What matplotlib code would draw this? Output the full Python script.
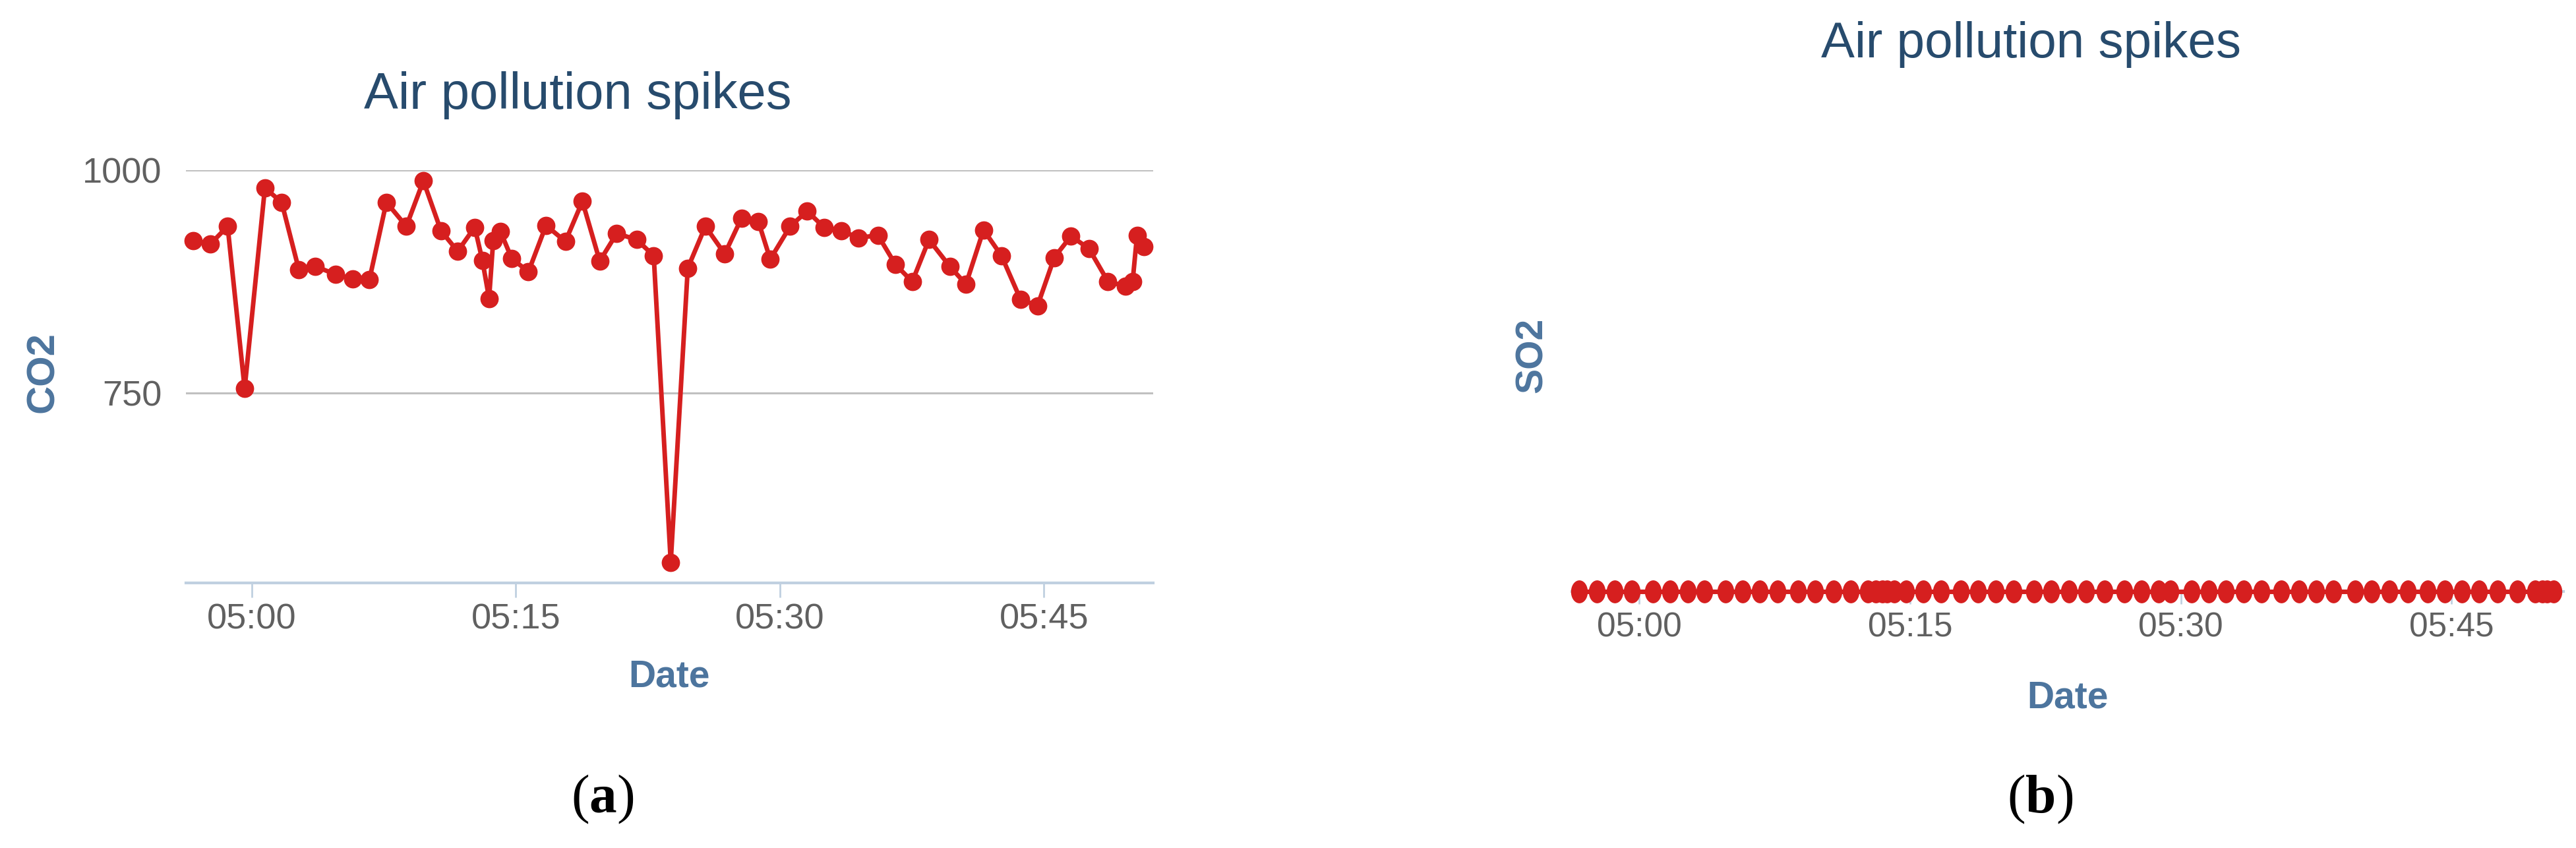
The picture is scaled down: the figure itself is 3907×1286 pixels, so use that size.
import numpy as np
import pandas as pd
import matplotlib
matplotlib.use('Agg')
import matplotlib.pyplot as plt
from matplotlib.path import Path

plt.rcParams['mathtext.fontset'] = 'custom'
plt.rcParams['mathtext.rm'] = 'Liberation Serif'
plt.rcParams['mathtext.bf'] = 'Liberation Serif:bold'

# readings (same timestamps for both sensors)
day = '2018-01-01'
times = ['04:56:41', '04:57:39', '04:58:38', '04:59:36', '05:00:45', '05:01:42',
         '05:02:41', '05:03:37', '05:04:47', '05:05:44', '05:06:41', '05:07:39',
         '05:08:47', '05:09:45', '05:10:45', '05:11:42', '05:12:40', '05:13:06',
         '05:13:29', '05:13:43', '05:14:08', '05:14:46', '05:15:43', '05:16:43',
         '05:17:49', '05:18:47', '05:19:46', '05:20:44', '05:21:52', '05:22:50',
         '05:23:48', '05:24:46', '05:25:46', '05:26:52', '05:27:49', '05:28:47',
         '05:29:27', '05:30:35', '05:31:33', '05:32:30', '05:33:30', '05:34:28',
         '05:35:34', '05:36:34', '05:37:31', '05:38:28', '05:39:39', '05:40:34',
         '05:41:34', '05:42:35', '05:43:40', '05:44:38', '05:45:35', '05:46:32',
         '05:47:33', '05:48:38', '05:49:37', '05:50:02', '05:50:17', '05:50:40']
co2 = [921, 917, 937, 755, 980, 964, 888, 892, 883, 878,
       877, 964, 937, 988, 932, 909, 936, 899, 856, 921,
       931, 901, 886, 938, 920, 965, 898, 929, 922, 904,
       560, 890, 937, 906, 946, 942, 900, 937, 954, 936,
       932, 924, 927, 894, 875, 922, 892, 872, 933, 904,
       855, 848, 902, 926, 912, 875, 870, 875, 927, 914]
so2 = [0, 0, 0, 0, 0, 0, 0, 0, 0, 0,
       0, 0, 0, 0, 0, 0, 0, 0, 0, 0,
       0, 0, 0, 0, 0, 0, 0, 0, 0, 0,
       0, 0, 0, 0, 0, 0, 0, 0, 0, 0,
       0, 0, 0, 0, 0, 0, 0, 0, 0, 0,
       0, 0, 0, 0, 0, 0, 0, 0, 0, 0]
x_ticks = ['05:00', '05:15', '05:30', '05:45']
co2_ticks = [750, 1000]
x_range = ['04:56:15', '05:51:12']

t = pd.to_datetime([day + ' ' + s for s in times])
tick_pos = pd.to_datetime([day + ' ' + s for s in x_ticks])
xlim = pd.to_datetime([day + ' ' + s for s in x_range])

RED = '#d61f1f'
TITLE = '#274b6d'
AXTITLE = '#4d759e'
TICKC = '#606060'
AXLINE = '#c0d0e0'
GRID = '#c0c0c0'
FONT = 'Liberation Sans'

W, H = 3907, 1286
fig = plt.figure(figsize=(W / 100, H / 100), dpi=100)

def px_axes(x0, x1, ytop, ybot):
    return fig.add_axes([x0 / W, 1 - ybot / H, (x1 - x0) / W, (ybot - ytop) / H])

def style_x(ax, size, ticklen, pad):
    ax.set_xlim(xlim[0], xlim[1])
    ax.set_xticks(tick_pos)
    ax.set_xticklabels(x_ticks, family=FONT)
    ax.tick_params(axis='x', length=ticklen, width=2, color=AXLINE,
                   labelsize=size, labelcolor=TICKC, pad=pad)
    for s in ['top', 'right', 'left']:
        ax.spines[s].set_visible(False)
    ax.spines['bottom'].set_color(AXLINE)
    ax.spines['bottom'].set_linewidth(3)

# (a) CO2
ax1 = px_axes(281.6, 1749, 258, 884)
ax1.plot(t, co2, color=RED, lw=5, marker='o', ms=19, mec=RED, mfc=RED,
         clip_on=False, zorder=3)
ax1.set_ylim(537, 1000)
ax1.set_yticks(co2_ticks)
ax1.set_yticklabels([str(v) for v in co2_ticks], family=FONT)
ax1.tick_params(axis='y', length=0, labelsize=39, labelcolor=TICKC, pad=26)
ax1.grid(axis='y', color=GRID, lw=2.2)
ax1.set_axisbelow(True)
style_x(ax1, 39, 16, 6)
ax1.set_title('Air pollution spikes', x=0.4051, y=1.1358, fontsize=56,
              color=TITLE, family=FONT, va='baseline')
ax1.set_xlabel('Date', fontsize=41, fontweight='bold', color=AXTITLE,
               family=FONT, va='center')
ax1.xaxis.set_label_coords(0.5, -0.2284)
ax1.set_ylabel('CO2', fontsize=43, fontweight='bold', color=AXTITLE,
               family=FONT, va='center')
ax1.yaxis.set_label_coords(-0.1476, 0.5096)

# (b) SO2
th = np.linspace(0, 2 * np.pi, 60)
oval = Path(np.column_stack([0.72 * np.cos(th), np.sin(th)]), closed=True)
ax2 = px_axes(2383.6, 3887.9, 181, 897)
ax2.plot(t, so2, color=RED, lw=5, marker=oval, ms=24, mec=RED, mfc=RED,
         clip_on=False, zorder=3)
ax2.set_ylim(0, 1)
ax2.set_yticks([])
style_x(ax2, 37, 14, 8)
ax2.set_title('Air pollution spikes', x=0.4636, y=1.1201, fontsize=55,
              color=TITLE, family=FONT, va='baseline')
ax2.set_xlabel('Date', fontsize=41, fontweight='bold', color=AXTITLE,
               family=FONT, va='center')
ax2.xaxis.set_label_coords(0.5, -0.2249)
ax2.set_ylabel('SO2', fontsize=41, fontweight='bold', color=AXTITLE,
               family=FONT, va='center')
ax2.yaxis.set_label_coords(-0.0396, 0.5)

fig.text(914 / W, 1 - 1212 / H, r'($\mathbf{a}$)', ha='center', va='center',
         fontsize=60, family='Liberation Serif')
fig.text(3094 / W, 1 - 1212 / H, r'($\mathbf{b}$)', ha='center', va='center',
         fontsize=60, family='Liberation Serif')

fig.savefig('out.png', dpi=100, facecolor='white')
